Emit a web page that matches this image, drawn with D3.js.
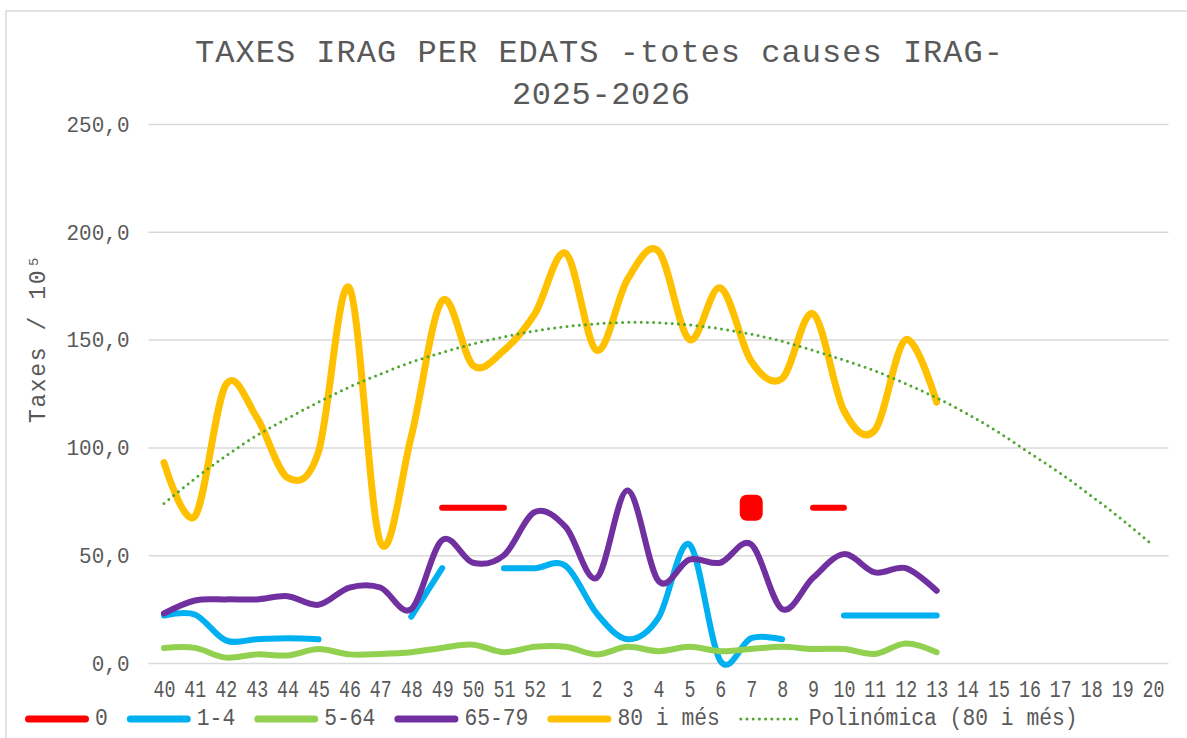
<!DOCTYPE html>
<html>
<head>
<meta charset="utf-8">
<script src="https://cdn.jsdelivr.net/npm/d3@7"></script>
<style>
  body { margin: 0; background: #fff; }
  svg { display: block; }
</style>
</head>
<body>
<script>
// setmanes epidemiologiques 2025-2026
const weeks = ['40','41','42','43','44','45','46','47','48','49','50','51','52',
  '1','2','3','4','5','6','7','8','9','10','11','12','13','14','15','16','17','18','19','20'];

const edat0   = [null,null,null,null,null,null,null,null,null,72,72,72,null,
  null,null,null,null,null,null,72,null,72,72,null,null,null];
const edat1_4 = [22,22.5,10.5,11,11.5,11,null,null,21.5,44,null,44,44,
  45,23,11,21,55,1,11.5,11,null,22,22,22,22];
const edat5_64 = [7,7,2.5,4,3.5,6.5,4,4.2,5,7,8.5,5,7.5,
  7.5,4,7.5,5.5,7.5,5.5,6.5,7.5,6.5,6.5,4.2,9,5];
const edat65_79 = [23,29,29.5,29.5,31,27,35,35,25,57,46.5,50,70,
  63,39.5,80,38,48,46.5,55,25,39.5,50.5,42,44,33.5];
const edat80 = [93,68,129,114,86,98,174,56,105,168,138,145,162,
  190,145,178,191,150,174,140,132,162,117,108,150,121];
// linia de tendencia polinomica (llegida del grafic)
const trend80 = [74,85.5,96,105.5,113.5,121,128,134,139.5,144,148,151.3,154,
  156,157.3,158,157.8,156.8,155,152.5,149.2,145,140.5,135.5,129.5,123,115.5,107,97.5,88,77.5,66.5,54.5];

const yTicks = [0,50,100,150,200,250];

const series = [
  {name: '0', values: edat0, color: '#FF0000'},
  {name: '1-4', values: edat1_4, color: '#00B0F0'},
  {name: '5-64', values: edat5_64, color: '#92D050'},
  {name: '65-79', values: edat65_79, color: '#7030A0'},
  {name: '80 i més', values: edat80, color: '#FFC000'}
];

const W = 1187, H = 738;
const pLeft = 148.5, pRight = 1168.5, pTop = 124, pBottom = 663;
const txt = '#595959';
const mono = '"Liberation Mono", "DejaVu Sans Mono", monospace';

const svg = d3.select('body').append('svg')
  .attr('width', W).attr('height', H);

svg.append('rect')
  .attr('x', 6).attr('y', 11).attr('width', 1300).attr('height', 900)
  .attr('fill', 'none').attr('stroke', '#D9D9D9').attr('stroke-width', 1.5);

const x = d3.scalePoint().domain(weeks).range([pLeft, pRight]).padding(0.5);
const y = d3.scaleLinear().domain([0, 250]).range([pBottom, pTop]);

// titol
svg.append('text')
  .attr('x', 599).attr('y', 62).attr('text-anchor', 'middle')
  .attr('font-family', mono).attr('font-size', 32).attr('fill', txt)
  .attr('textLength', 808).attr('lengthAdjust', 'spacing')
  .text('TAXES IRAG PER EDATS -totes causes IRAG-');
svg.append('text')
  .attr('x', 601).attr('y', 104).attr('text-anchor', 'middle')
  .attr('font-family', mono).attr('font-size', 32).attr('fill', txt)
  .attr('textLength', 178).attr('lengthAdjust', 'spacing')
  .text('2025-2026');

// eix Y + graella
const fmt = d => d3.format('.1f')(d).replace('.', ',');
const gy = svg.append('g')
  .attr('transform', `translate(${pLeft},0)`)
  .call(d3.axisLeft(y).tickValues(yTicks)
    .tickSize(-(pRight - pLeft)).tickPadding(19)
    .tickFormat(fmt));
gy.select('.domain').remove();
gy.selectAll('.tick line').attr('stroke', '#D9D9D9').attr('stroke-width', 1.5);
gy.selectAll('.tick text')
  .attr('font-family', mono).attr('font-size', 22).attr('fill', txt)
  .attr('dy', '0.33em')
  .attr('textLength', d => fmt(d).length * 12.6).attr('lengthAdjust', 'spacingAndGlyphs');

svg.append('text')
  .attr('transform', 'translate(45,339) rotate(-90)')
  .attr('text-anchor', 'middle')
  .attr('font-family', mono).attr('font-size', 23).attr('fill', txt)
  .attr('textLength', 168).attr('lengthAdjust', 'spacing')
  .text('Taxes / 10⁵');

// eix X
const gx = svg.append('g')
  .attr('transform', `translate(0,${pBottom})`)
  .call(d3.axisBottom(x).tickSize(0));
gx.select('.domain').remove();
gx.selectAll('.tick text')
  .attr('dy', null).attr('y', 34)
  .attr('font-family', mono).attr('font-size', 23).attr('fill', txt)
  .attr('textLength', d => d.length * 11).attr('lengthAdjust', 'spacingAndGlyphs');

// series
const plot = svg.append('g');
series.forEach((s, k) => {
  const pts = s.values.map((v, i) => ({w: weeks[i], v}));
  const line = d3.line()
    .defined(d => d.v != null)
    .x(d => x(d.w)).y(d => y(d.v))
    .curve(k === 0 ? d3.curveLinear : d3.curveCardinal.tension(0));
  plot.append('path')
    .attr('d', line(pts))
    .attr('fill', 'none')
    .attr('stroke', s.color)
    .attr('stroke-width', k === 4 ? 7 : 6)
    .attr('stroke-linecap', 'round').attr('stroke-linejoin', 'round');
  // punts aillats
  const lone = pts.filter((d, i) => d.v != null &&
    (i === 0 || pts[i - 1].v == null) && (i === pts.length - 1 || pts[i + 1].v == null));
  plot.selectAll(null).data(lone).enter().append('rect')
    .attr('x', d => x(d.w) - 11.5).attr('y', d => y(d.v) - 13)
    .attr('width', 23).attr('height', 26).attr('rx', 7)
    .attr('fill', s.color);
});

const trendLine = d3.line()
  .x((d, i) => x(weeks[i])).y(d => y(d))
  .curve(d3.curveNatural);
plot.append('path')
  .attr('d', trendLine(trend80))
  .attr('fill', 'none').attr('stroke', '#4EA72E')
  .attr('stroke-width', 3).attr('stroke-linecap', 'round')
  .attr('stroke-dasharray', '0 6.2');

// llegenda
const legendItems = series.map(s => ({name: s.name, color: s.color, dotted: false}))
  .concat([{name: 'Polinómica (80 i més)', color: '#4EA72E', dotted: true}]);
let lx = 25;
const ly = 719;
const lg = svg.append('g');
legendItems.forEach(it => {
  lg.append('line')
    .attr('x1', lx + (it.dotted ? 2 : 3.5)).attr('x2', lx + 64 - (it.dotted ? 2 : 3.5))
    .attr('y1', ly).attr('y2', ly)
    .attr('stroke', it.color)
    .attr('stroke-width', it.dotted ? 3 : 7)
    .attr('stroke-linecap', 'round')
    .attr('stroke-dasharray', it.dotted ? '0 6.2' : null);
  const tw = it.name.length * 12.8;
  lg.append('text')
    .attr('x', lx + 70).attr('y', 725)
    .attr('font-family', mono).attr('font-size', 23).attr('fill', txt)
    .attr('textLength', tw).attr('lengthAdjust', 'spacingAndGlyphs')
    .text(it.name);
  lx += 70 + tw + 19;
});
</script>
</body>
</html>
